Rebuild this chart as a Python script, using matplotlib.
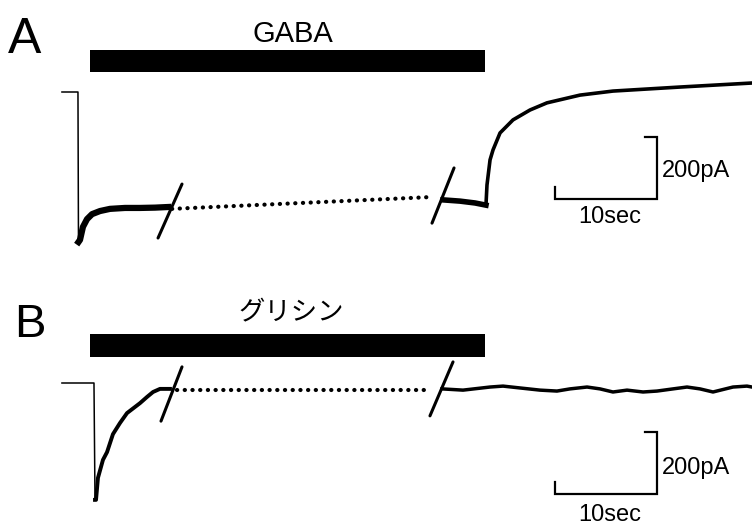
import matplotlib
matplotlib.use("Agg")
import matplotlib.pyplot as plt
from matplotlib.patches import Rectangle

plt.rcParams['font.family'] = ['Liberation Sans', 'Noto Sans CJK JP', 'DejaVu Sans']

# ---------------- data (time in s from drug onset, current in pA re. holding) ----------------
# Drug application window (same for both panels)
app_start, app_end = 0.0, 38.7

# Panel A: GABA
a_hold_t = [-2.75, -1.18, -1.13]
a_hold_i = [0, 0, -484]
a_early_t = [-1.13, -0.98, -0.69, -0.29, 0.2, 0.98, 1.96, 3.43, 4.9, 6.37, 7.65]
a_early_i = [-484, -477, -435, -410, -394, -384, -377, -374, -374, -373, -371]
a_gap_t = [8.04, 33.33]
a_gap_i = [-377, -339]
a_late_t = [34.61, 36.27, 37.75, 38.82]
a_late_i = [-348, -352, -358, -365]
a_wash_t = [38.82, 38.92, 39.22, 39.51, 40.2, 41.47, 43.14, 44.8, 48.04, 51.27, 57.84, 64.9]
a_wash_i = [-365, -300, -219, -187, -132, -90, -58, -35, -10, 3, 16, 29]
a_break_t = [(6.67, 9.02), (33.53, 35.69)]
a_break_i = [(-471, -297), (-423, -245)]

# Panel B: glycine
b_hold_t = [-2.75, 0.39, 0.49]
b_hold_i = [0, 0, -377]
b_decay_t = [0.49, 0.59, 0.78, 1.27, 1.67, 2.25, 2.94, 3.63, 4.9, 5.59, 6.18, 6.86, 7.84]
b_decay_i = [-377, -377, -306, -248, -223, -165, -129, -97, -65, -45, -29, -19, -19]
b_gap_t = [8.53, 33.33]
b_gap_i = [-23, -23]
b_late_t = [34.51, 36.57, 39.22, 40.49, 42.16, 44.12, 45.78, 47.06, 48.73, 50.0, 51.27,
            52.65, 54.22, 55.59, 57.16, 58.53, 59.8, 61.08, 63.04, 64.41, 64.9]
b_late_i = [-19, -23, -13, -10, -16, -23, -26, -19, -13, -19, -29,
            -23, -29, -26, -19, -13, -19, -29, -13, -10, -13]
b_break_t = [(6.96, 9.02), (33.33, 35.59)]
b_break_i = [(-123, 52), (-106, 68)]

# Scale bars
scale_t = 10      # s
scale_i = 200     # pA
a_scale_origin = (45.6, -345)
b_scale_origin = (45.6, -358)

# ---------------- layout ----------------
W, H = 752, 525
PX_PER_S = 10.2
PX_PER_PA = 0.31
X0_PX = 90

fig = plt.figure(figsize=(W / 100, H / 100), dpi=100)
fig.patch.set_facecolor('white')


def make_axes(top_px, bottom_px, base_px):
    ax = fig.add_axes([0, 1 - bottom_px / H, 1, (bottom_px - top_px) / H])
    ax.set_xlim(-X0_PX / PX_PER_S, (W - X0_PX) / PX_PER_S)
    ax.set_ylim((base_px - bottom_px) / PX_PER_PA, (base_px - top_px) / PX_PER_PA)
    ax.axis('off')
    return ax


def ftext(x_px, y_px, s, **kw):
    fig.text(x_px / W, 1 - y_px / H, s, **kw)


def draw_panel(ax, base_px, bar_px, breaks_t, breaks_i, gap_t, gap_i, origin):
    # drug application bar
    y_lo = (base_px - bar_px[1]) / PX_PER_PA
    y_hi = (base_px - bar_px[0]) / PX_PER_PA
    ax.add_patch(Rectangle((app_start, y_lo), app_end - app_start, y_hi - y_lo,
                           facecolor='black', edgecolor='none'))
    # omitted-time dotted line
    ax.plot(gap_t, gap_i, color='black', lw=3.0, linestyle=(0, (0.05, 1.8)),
            dash_capstyle='round')
    # break marks
    for bt, bi in zip(breaks_t, breaks_i):
        ax.plot(bt, bi, color='black', lw=2.2, solid_capstyle='round')
    # scale bar
    t0, i0 = origin
    tick_t = 12 / PX_PER_S
    tick_i = 12 / PX_PER_PA
    ax.plot([t0, t0, t0 + scale_t, t0 + scale_t, t0 + scale_t - tick_t],
            [i0 + tick_i, i0, i0, i0 + scale_i, i0 + scale_i],
            color='black', lw=1.6, solid_joinstyle='miter')


# Panel A
axA = make_axes(0, 262.5, 92)
axA.plot(a_hold_t, a_hold_i, color='black', lw=1.1)
axA.plot(a_early_t, a_early_i, color='black', lw=4.5, solid_joinstyle='round')
axA.plot(a_late_t, a_late_i, color='black', lw=4.0)
axA.plot(a_wash_t, a_wash_i, color='black', lw=2.6, solid_joinstyle='round')
draw_panel(axA, 92, (50, 72), a_break_t, a_break_i, a_gap_t, a_gap_i, a_scale_origin)

# Panel B
axB = make_axes(262.5, 525, 383)
axB.plot(b_hold_t, b_hold_i, color='black', lw=1.1)
axB.plot(b_decay_t, b_decay_i, color='black', lw=2.8, solid_joinstyle='round')
axB.plot(b_late_t, b_late_i, color='black', lw=2.5, solid_joinstyle='round')
draw_panel(axB, 383, (334, 357), b_break_t, b_break_i, b_gap_t, b_gap_i, b_scale_origin)

# ---------------- text ----------------
ftext(8, 53, 'A', fontsize=36, ha='left', va='baseline')
ftext(14, 337, 'B', fontsize=34, ha='left', va='baseline')
ftext(293, 42, 'GABA', fontsize=21, ha='center', va='baseline')
ftext(291, 313, 'グリシン', fontsize=19, ha='center', va='center')
for y_bar, y_txt in ((177, 223), (474, 521)):
    ftext(662, y_bar, '200pA', fontsize=17, ha='left', va='baseline')
    ftext(610, y_txt, '10sec', fontsize=17, ha='center', va='baseline')

fig.savefig('out.png', dpi=100, facecolor='white')
